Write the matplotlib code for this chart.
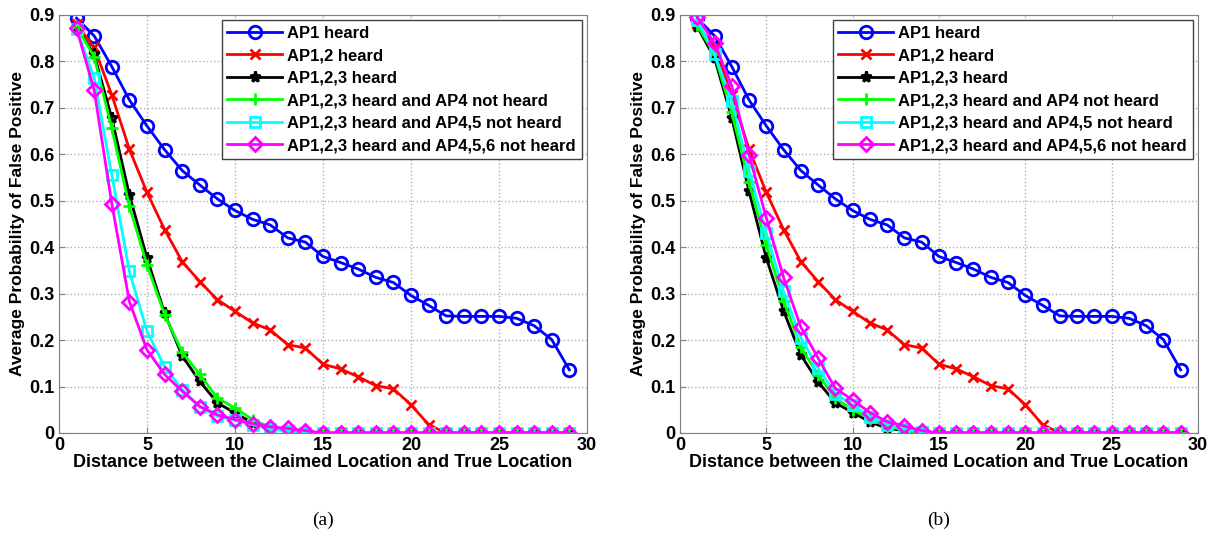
import numpy as np
import matplotlib
matplotlib.use("Agg")
import matplotlib.pyplot as plt

plt.rcParams['font.family'] = ['Liberation Sans', 'DejaVu Sans']
plt.rcParams['font.weight'] = 'bold'

dist = list(range(1, 30))

# curves shared by both panels
ap1 = [0.893, 0.855, 0.789, 0.717, 0.661, 0.61, 0.565, 0.534, 0.504, 0.479,
       0.46, 0.448, 0.42, 0.411, 0.38, 0.367, 0.353, 0.335, 0.324, 0.296,
       0.275, 0.252, 0.251, 0.251, 0.251, 0.247, 0.231, 0.201, 0.136]
ap12 = [0.88, 0.83, 0.728, 0.611, 0.518, 0.438, 0.369, 0.326, 0.287, 0.262,
        0.237, 0.222, 0.19, 0.183, 0.148, 0.138, 0.121, 0.102, 0.095, 0.061,
        0.018, 0, 0, 0, 0, 0, 0, 0, 0]

# panel (a)
a_ap123 = [0.875, 0.815, 0.678, 0.513, 0.377, 0.258, 0.166, 0.111, 0.065, 0.043,
           0.022, 0.01, 0.005] + [0] * 16
a_no4 = [0.875, 0.81, 0.656, 0.488, 0.362, 0.255, 0.174, 0.126, 0.075, 0.054,
         0.029, 0.012, 0.005] + [0] * 16
a_no45 = [0.87, 0.764, 0.556, 0.348, 0.219, 0.143, 0.093, 0.057, 0.036, 0.027,
          0.018, 0.008, 0.004] + [0] * 16
a_no456 = [0.871, 0.738, 0.494, 0.283, 0.179, 0.126, 0.09, 0.057, 0.039, 0.029,
           0.02, 0.013, 0.01, 0.005] + [0] * 15

# panel (b)
b_ap123 = [0.875, 0.807, 0.678, 0.52, 0.377, 0.263, 0.168, 0.11, 0.065, 0.044,
           0.024, 0.01, 0.005] + [0] * 16
b_no4 = [0.878, 0.815, 0.69, 0.54, 0.405, 0.285, 0.185, 0.125, 0.075, 0.05,
         0.03, 0.014, 0.006] + [0] * 16
b_no45 = [0.89, 0.815, 0.715, 0.565, 0.43, 0.305, 0.205, 0.14, 0.085, 0.06,
          0.035, 0.018, 0.009, 0.003] + [0] * 15
b_no456 = [0.896, 0.839, 0.747, 0.599, 0.463, 0.335, 0.228, 0.161, 0.096, 0.071,
           0.044, 0.024, 0.015, 0.005] + [0] * 15

labels = ['AP1 heard', 'AP1,2 heard', 'AP1,2,3 heard',
          'AP1,2,3 heard and AP4 not heard',
          'AP1,2,3 heard and AP4,5 not heard',
          'AP1,2,3 heard and AP4,5,6 not heard']
colors = ['#0000ff', '#ff0000', '#000000', '#00ff00', '#00ffff', '#ff00ff']
markers = ['o', 'x', '*', '+', 's', 'D']
msizes = [9, 7, 8, 9, 7, 7.5]

fig = plt.figure(figsize=(12.21, 5.36), dpi=100)
ax_a = fig.add_axes([0.0483, 0.1922, 0.4324, 0.7799])
ax_b = fig.add_axes([0.5569, 0.1922, 0.4242, 0.7799])

panels = [(ax_a, [ap1, ap12, a_ap123, a_no4, a_no45, a_no456], '(a)'),
          (ax_b, [ap1, ap12, b_ap123, b_no4, b_no45, b_no456], '(b)')]

for ax, series, cap in panels:
    for ys, lab, c, m, ms in zip(series, labels, colors, markers, msizes):
        ax.plot(dist, ys, color=c, marker=m, markersize=ms, markerfacecolor='none',
                markeredgewidth=2, linewidth=2, label=lab)
    ax.set_xlim(0, 30)
    ax.set_ylim(0, 0.9)
    ax.set_xticks(np.arange(0, 31, 5))
    ax.set_yticks(np.arange(0, 0.91, 0.1))
    ax.set_yticklabels(['0'] + ['%.1f' % v for v in np.arange(0.1, 0.91, 0.1)])
    ax.tick_params(direction='in', labelsize=13, length=4, color='#808080', pad=3)
    for lbl in ax.get_xticklabels() + ax.get_yticklabels():
        lbl.set_fontweight('bold')
    ax.grid(True, linestyle=':', color='#b0b0b0', linewidth=1)
    for sp in ax.spines.values():
        sp.set_color('#808080')
    ax.set_xlabel('Distance between the Claimed Location and True Location',
                  fontsize=13, fontweight='bold', labelpad=0)
    ax.set_ylabel('Average Probability of False Positive',
                  fontsize=12.5, fontweight='bold', labelpad=3)
    leg = ax.legend(loc='upper right', handlelength=3.3,
                    borderaxespad=0.3, labelspacing=0.45, handletextpad=0.3,
                    borderpad=0.35, fancybox=False, framealpha=1,
                    edgecolor='#404040', prop={'weight': 'bold', 'size': 12})
    leg.get_frame().set_linewidth(1)
    ax.text(0.5, -0.21, cap, transform=ax.transAxes, ha='center', va='center',
            fontsize=14, family='Liberation Serif', fontweight='normal')

fig.savefig('out.png', dpi=100)
